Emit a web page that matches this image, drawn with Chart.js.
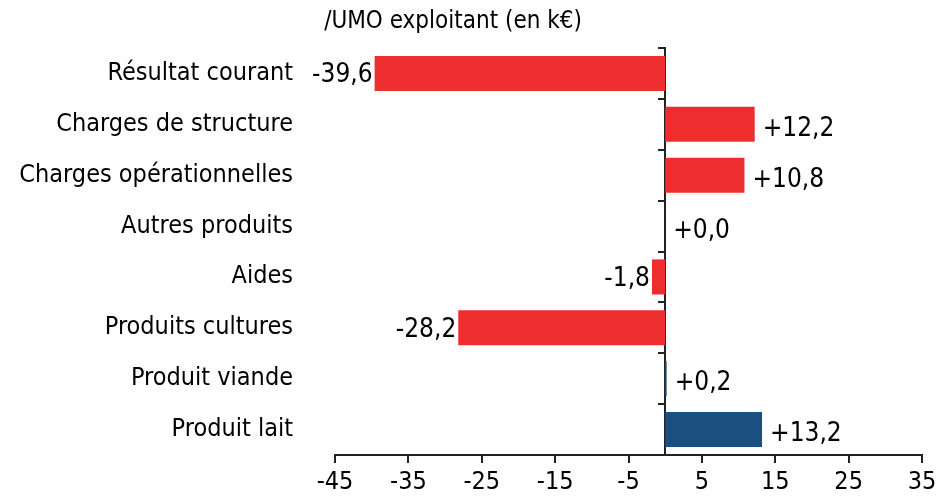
<!DOCTYPE html>
<html lang="fr">
<head>
    <meta charset="UTF-8">
    <title>Résultat courant /UMO exploitant</title>
    <script src="https://cdn.jsdelivr.net/npm/chart.js"></script>
    <style>
        body { margin: 0; background: #fff; }
        #wrap { width: 949px; height: 496px; }
    </style>
</head>
<body>
    <div id="wrap"><canvas id="chart"></canvas></div>
    <script>
        // chart data
        const categories = ['Résultat courant', 'Charges de structure', 'Charges opérationnelles',
            'Autres produits', 'Aides', 'Produits cultures', 'Produit viande', 'Produit lait'];
        const values = [-39.6, 12.2, 10.8, 0.0, -1.8, -28.2, 0.2, 13.2];
        const barColors = ['#ee2e2e', '#ee2e2e', '#ee2e2e', '#ee2e2e', '#ee2e2e', '#ee2e2e', '#1a4f80', '#1a4f80'];
        const xTicks = [-45, -35, -25, -15, -5, 5, 15, 25, 35];
        const unitTitle = '/UMO exploitant (en k€)';

        const FONT = "'DejaVu Sans Condensed', 'DejaVu Sans', sans-serif";

        function fmt(v) {
            const s = Math.abs(v).toFixed(1).replace('.', ',');
            return (v < 0 ? '-' : '+') + s;
        }

        // value labels next to bar ends + title
        const labelPlugin = {
            id: 'labels',
            afterDatasetsDraw(chart) {
                const ctx = chart.ctx;
                const meta = chart.getDatasetMeta(0);
                ctx.save();
                ctx.font = '26px ' + FONT;
                ctx.fillStyle = '#000';
                ctx.textBaseline = 'middle';
                meta.data.forEach((bar, i) => {
                    const v = values[i];
                    if (v < 0) {
                        ctx.textAlign = 'right';
                        ctx.fillText(fmt(v), bar.x - 2, bar.y + 2);
                    } else {
                        ctx.textAlign = 'left';
                        ctx.fillText(fmt(v), Math.max(bar.x, chart.scales.x.getPixelForValue(0)) + 8, bar.y + 5);
                    }
                });
                ctx.textAlign = 'center';
                ctx.font = '24px ' + FONT;
                ctx.fillText(unitTitle, 453, 22);
                ctx.restore();
            }
        };

        new Chart(document.getElementById('chart'), {
            type: 'bar',
            data: {
                labels: categories,
                datasets: [{
                    data: values,
                    backgroundColor: barColors,
                    borderWidth: 0,
                    categoryPercentage: 1,
                    barPercentage: 0.69
                }]
            },
            options: {
                indexAxis: 'y',
                responsive: true,
                maintainAspectRatio: false,
                animation: false,
                layout: { padding: { top: 48, right: 27, bottom: 0, left: 0 } },
                plugins: { legend: { display: false }, tooltip: { enabled: false }, title: { display: false } },
                scales: {
                    x: {
                        min: -45,
                        max: 35,
                        afterBuildTicks: (scale) => { scale.ticks = xTicks.map(v => ({ value: v })); },
                        border: { display: true, color: '#222', width: 2 },
                        grid: { drawOnChartArea: false, color: '#222', lineWidth: 2, tickLength: 8 },
                        ticks: { color: '#000', font: { family: FONT, size: 25 }, padding: 4 },
                        afterFit: (scale) => { scale.height = 41; }
                    },
                    y: {
                        position: 'left',
                        border: { display: false },
                        grid: { display: false, drawTicks: false },
                        ticks: { color: '#000', font: { family: FONT, size: 25 }, padding: 42 },
                        afterFit: (scale) => {
                            scale.width = 335;
                            scale.paddingTop = 0;
                            scale.paddingBottom = 0;
                        }
                    },
                    zero: {
                        axis: 'y',
                        type: 'category',
                        labels: categories,
                        position: { x: 0 },
                        border: { display: true, color: '#222', width: 2 },
                        grid: { drawOnChartArea: false, offset: true, color: '#222', lineWidth: 2, tickLength: 6 },
                        ticks: { display: false }
                    }
                }
            },
            plugins: [labelPlugin]
        });
    </script>
</body>
</html>
